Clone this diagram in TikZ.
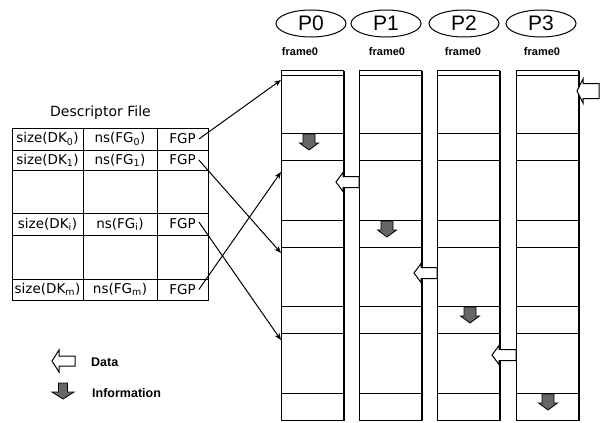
\documentclass[tikz,border=0pt]{standalone}
\usepackage{fontspec}
\setmainfont{Liberation Sans}
\newfontfamily\tabfont{DejaVu Sans}
\usetikzlibrary{shapes.geometric,arrows.meta}

% hollow "data" arrow pointing left: tip x, tip y, body end x, body half, head half, head length
\newcommand\dataarr[6]{%
  \draw[datashape] (#1,#2) -- ++(#6,-#5) -- ++(0,#5-#4) -- (#3,#2-#4)
    -- (#3,#2+#4) -- (#1+#6,#2+#4) -- ++(0,#5-#4) -- cycle;}
% shaded "information" arrow pointing down: centre x, top y, shaft len, head len, shaft half, head half
\newcommand\infoarr[6]{%
  \draw[infoshape] (#1-#5,#2) -- (#1+#5,#2) -- (#1+#5,#2+#3) -- (#1+#6,#2+#3)
    -- (#1,#2+#3+#4) -- (#1-#6,#2+#3) -- (#1-#5,#2+#3) -- cycle;}

\begin{document}
\begin{tikzpicture}[x=1pt,y=-1pt,
  line join=miter,
  colbox/.style={draw,line width=1.1pt,anchor=north west,inner sep=0pt,
    minimum width=62pt,minimum height=350pt},
  divline/.style={line width=1pt},
  shadowline/.style={line width=1.8pt},
  proc/.style={ellipse,draw,line width=1pt,minimum width=70pt,minimum height=27pt,
    inner sep=0pt,font=\fontsize{21}{21}\selectfont},
  frlabel/.style={font=\bfseries\fontsize{11}{11}\selectfont,inner sep=0pt},
  tabline/.style={line width=1pt},
  celltext/.style={font=\tabfont\fontsize{13.5}{13.5}\selectfont,inner sep=0pt},
  fgptext/.style={celltext,inner xsep=3pt,inner ysep=0pt},
  title/.style={font=\tabfont\fontsize{14}{14}\selectfont,inner sep=0pt},
  legtext/.style={font=\bfseries\fontsize{12.5}{12.5}\selectfont,inner sep=0pt,anchor=west},
  link/.style={line width=1pt,-{Stealth[length=7pt,width=5.5pt]}},
  datashape/.style={draw,fill=white,line width=1pt},
  infoshape/.style={draw,fill=black!60,line width=0.8pt}]

\useasboundingbox (0,0) rectangle (600,423);

% process columns, each split into four frames
\foreach \k/\xl in {0/281,1/359,2/437,3/516} {
  \node[colbox] (col\k) at (\xl,70) {};
  \foreach \yy in {75,133,160,220,247,306,333,393}
    \draw[divline] (\xl,\yy) -- ++(62,0);
  \draw[shadowline] (\xl+63,71) -- (\xl+63,421);
}

% process names
\node[proc] (p0) at (311,23.5) {P0};
\node[proc] (p1) at (386,23.5) {P1};
\node[proc] (p2) at (464,23.5) {P2};
\node[proc] (p3) at (541,23.5) {P3};

% frame labels
\node[frlabel] (f0) at (300,52) {frame0};
\node[frlabel] (f1) at (387,52) {frame0};
\node[frlabel] (f2) at (463,52) {frame0};
\node[frlabel] (f3) at (542,52) {frame0};

% data transfers between neighbouring processes
\dataarr{577}{91}{599}{7.5}{12}{6}
\dataarr{336}{182}{359}{5.5}{9.5}{7}
\dataarr{414}{273}{437}{5.5}{9.5}{7}
\dataarr{492}{355}{516}{5.5}{9.5}{7}

% information passed down to the next frame
\infoarr{309}{134}{9}{7}{6}{9.5}
\infoarr{387}{221}{9}{7}{6}{9.5}
\infoarr{470}{307}{9}{7}{6}{9.5}
\infoarr{548}{394}{9}{7}{6}{9.5}

% descriptor file table
\node[title] (dtitle) at (100.5,113) {Descriptor File};
\draw[tabline] (12,128) rectangle (208,300);
\foreach \xx in {83,157} \draw[tabline] (\xx,128) -- (\xx,300);
\foreach \yy in {150,170,213,235,279} \draw[tabline] (12,\yy) -- (208,\yy);

\node[celltext] (s0) at (47.5,139) {size(DK\textsubscript{0})};
\node[celltext] (n0) at (120,139) {ns(FG\textsubscript{0})};
\node[fgptext] (g0) at (182.5,139) {FGP};
\node[celltext] (s1) at (47.5,160) {size(DK\textsubscript{1})};
\node[celltext] (n1) at (120,160) {ns(FG\textsubscript{1})};
\node[fgptext] (g1) at (182.5,160) {FGP};
\node[celltext] (si) at (47.5,224) {size(DK\textsubscript{i})};
\node[celltext] (ni) at (120,224) {ns(FG\textsubscript{i})};
\node[fgptext] (gi) at (182.5,224) {FGP};
\node[celltext] (sm) at (47.5,289.5) {size(DK\textsubscript{m})};
\node[celltext] (nm) at (120,289.5) {ns(FG\textsubscript{m})};
\node[fgptext] (gm) at (182.5,289.5) {FGP};

% frame group pointers into the first column
\coordinate (t0) at (281,80);
\coordinate (tm) at (281,172);
\coordinate (t1) at (281,253);
\coordinate (ti) at (281,340);
\draw[link] (g0.east) -- (t0);
\draw[link] (g1.east) -- (t1);
\draw[link] ([yshift=2pt]gi.east) -- (ti);
\draw[link] (gm.east) -- (tm);

% legend
\dataarr{52}{361}{75}{5}{11}{7}
\node[legtext] (ldata) at (91,362) {Data};
\infoarr{63}{383}{9}{7}{4.5}{11}
\node[legtext] (linfo) at (92,393) {Information};

\end{tikzpicture}
\end{document}
